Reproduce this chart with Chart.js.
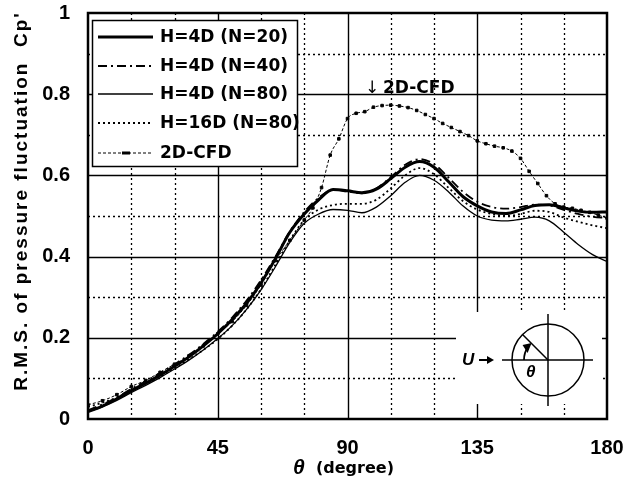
<!DOCTYPE html>
<html>
<head>
<meta charset="utf-8">
<script src="https://cdn.jsdelivr.net/npm/chart.js@4/dist/chart.umd.min.js"></script>
<style>
  html, body { margin: 0; padding: 0; background: #fff; }
  #wrap { width: 624px; height: 493px; }
</style>
</head>
<body>
<div id="wrap"><canvas id="chart" width="624" height="493"></canvas></div>
<script>
// theta (degree) sample points
const theta = [0, 5, 10, 15, 20, 25, 30, 35, 40, 45, 50, 55, 60, 65, 70, 75, 80, 85, 90,
  95, 100, 105, 110, 115, 120, 125, 130, 135, 140, 145, 150, 155, 160, 165, 170, 175, 180];

const cpN20 = [0.018, 0.032, 0.05, 0.07, 0.088, 0.108, 0.13, 0.153, 0.18, 0.21, 0.245, 0.285, 0.335,
  0.395, 0.46, 0.505, 0.54, 0.565, 0.562, 0.557, 0.566, 0.592, 0.62, 0.634, 0.62, 0.585, 0.548,
  0.525, 0.51, 0.506, 0.515, 0.526, 0.528, 0.52, 0.512, 0.509, 0.51];
const cpN40 = [0.022, 0.036, 0.053, 0.074, 0.093, 0.113, 0.135, 0.158, 0.185, 0.215, 0.25, 0.292, 0.342,
  0.4, 0.462, 0.51, 0.545, 0.565, 0.56, 0.556, 0.568, 0.596, 0.626, 0.64, 0.628, 0.595, 0.56,
  0.535, 0.522, 0.518, 0.522, 0.528, 0.526, 0.515, 0.505, 0.498, 0.495];
const cpN80 = [0.018, 0.03, 0.046, 0.065, 0.083, 0.102, 0.123, 0.145, 0.17, 0.198, 0.23, 0.27, 0.318,
  0.375, 0.435, 0.482, 0.505, 0.516, 0.514, 0.508, 0.522, 0.55, 0.583, 0.6, 0.588, 0.56, 0.525,
  0.5, 0.49, 0.488, 0.492, 0.497, 0.488, 0.46, 0.43, 0.405, 0.388];
const cpH16 = [0.03, 0.04, 0.053, 0.07, 0.087, 0.105, 0.125, 0.147, 0.17, 0.197, 0.23, 0.27, 0.32,
  0.38, 0.44, 0.49, 0.516, 0.527, 0.53, 0.53, 0.54, 0.568, 0.6, 0.618, 0.603, 0.57, 0.537,
  0.516, 0.505, 0.5, 0.505, 0.513, 0.51, 0.496, 0.486, 0.477, 0.47];

const thetaCfd = [0, 5, 10, 15, 20, 25, 30, 35, 40, 45, 50, 55, 60, 65, 70, 75, 78, 81, 84, 87, 90,
  93, 96, 99, 102, 105, 108, 111, 114, 117, 120, 123, 126, 129, 132, 135, 138, 141, 144, 147,
  150, 153, 156, 159, 162, 165, 168, 171, 174, 177, 180];
const cpCfd = [0.035, 0.045, 0.06, 0.08, 0.095, 0.115, 0.135, 0.155, 0.18, 0.21, 0.24, 0.28, 0.33,
  0.39, 0.44, 0.49, 0.52, 0.57, 0.65, 0.69, 0.74, 0.753, 0.757, 0.768, 0.772, 0.773, 0.771,
  0.767, 0.76, 0.75, 0.74, 0.728, 0.718, 0.708, 0.698, 0.685, 0.678, 0.672, 0.668, 0.66, 0.642,
  0.61, 0.58, 0.55, 0.53, 0.522, 0.519, 0.514, 0.509, 0.502, 0.495];

const seriesNames = ["H=4D (N=20)", "H=4D (N=40)", "H=4D (N=80)", "H=16D (N=80)", "2D-CFD"];
const xTicks = [0, 45, 90, 135, 180];
const yTicks = [0, 0.2, 0.4, 0.6, 0.8, 1];

function pts(xs, ys) {
  return xs.map((x, i) => ({ x: x, y: ys[i] }));
}

const styles = [
  { borderWidth: 3, borderDash: [] },
  { borderWidth: 1.8, borderDash: [9, 4, 2, 4] },
  { borderWidth: 1.3, borderDash: [] },
  { borderWidth: 1.8, borderDash: [2, 3] },
  { borderWidth: 1, borderDash: [3, 2] }
];

// grid, frame, legend box, annotation and inset sketch
const decor = {
  id: 'decor',
  beforeDatasetsDraw(chart) {
    const ctx = chart.ctx;
    const a = chart.chartArea;
    const xs = chart.scales.x, ys = chart.scales.y;
    ctx.save();
    ctx.strokeStyle = '#000';
    for (let k = 1; k < 10; k++) {
      const y = Math.round(ys.getPixelForValue(k / 10)) + 0.5;
      ctx.lineWidth = k % 2 === 0 ? 1.4 : 1.3;
      ctx.setLineDash(k % 2 === 0 ? [] : [2, 3]);
      ctx.beginPath(); ctx.moveTo(a.left, y); ctx.lineTo(a.right, y); ctx.stroke();
    }
    for (let t = 15; t < 180; t += 15) {
      const x = Math.round(xs.getPixelForValue(t)) + 0.5;
      ctx.lineWidth = t % 45 === 0 ? 1.4 : 1.3;
      ctx.setLineDash(t % 45 === 0 ? [] : [2, 3]);
      ctx.beginPath(); ctx.moveTo(x, a.top); ctx.lineTo(x, a.bottom); ctx.stroke();
    }
    ctx.setLineDash([]);

    // inset: flow sketch
    ctx.fillStyle = '#fff';
    ctx.fillRect(456, 312, 146, 92);
    const cx = 548, cy = 360, r = 36;
    ctx.lineWidth = 1.5;
    ctx.beginPath(); ctx.arc(cx, cy, r, 0, Math.PI * 2); ctx.stroke();
    ctx.beginPath(); ctx.moveTo(502, cy); ctx.lineTo(593, cy); ctx.stroke();
    ctx.beginPath(); ctx.moveTo(cx, 314); ctx.lineTo(cx, 406); ctx.stroke();
    ctx.beginPath(); ctx.moveTo(cx, cy); ctx.lineTo(cx - r * Math.cos(Math.PI / 4), cy - r * Math.sin(Math.PI / 4)); ctx.stroke();
    // angle arc with arrow
    ctx.lineWidth = 1.8;
    ctx.beginPath(); ctx.arc(cx, cy, 24, Math.PI, Math.PI * 1.19); ctx.stroke();
    const ea = Math.PI * 1.2;
    const ex = cx + 24 * Math.cos(ea), ey = cy + 24 * Math.sin(ea);
    ctx.beginPath(); ctx.moveTo(ex + 3, ey - 3); ctx.lineTo(ex - 6, ey - 1); ctx.lineTo(ex - 1, ey + 7); ctx.closePath(); ctx.fillStyle = '#000'; ctx.fill();
    // U arrow
    ctx.lineWidth = 2;
    ctx.beginPath(); ctx.moveTo(479, cy); ctx.lineTo(489, cy); ctx.stroke();
    ctx.beginPath(); ctx.moveTo(494, cy); ctx.lineTo(487, cy - 4); ctx.lineTo(487, cy + 4); ctx.closePath(); ctx.fill();
    ctx.fillStyle = '#000';
    ctx.font = 'italic bold 17px "Liberation Sans"';
    ctx.textBaseline = 'middle';
    ctx.textAlign = 'left';
    ctx.fillText('U', 462, cy);
    ctx.fillText('θ', 526, 372);
    ctx.restore();
  },
  afterDatasetsDraw(chart) {
    const ctx = chart.ctx;
    const a = chart.chartArea;
    ctx.save();
    // frame
    ctx.strokeStyle = '#000';
    ctx.lineWidth = 2.5;
    ctx.strokeRect(a.left, a.top, a.right - a.left, a.bottom - a.top);

    // legend
    ctx.fillStyle = '#fff';
    ctx.fillRect(92, 20, 205, 146);
    ctx.lineWidth = 1.5;
    ctx.strokeRect(92.5, 20.5, 205, 146);
    const rows = [37, 66, 94, 123, 153];
    ctx.font = 'bold 17px "DejaVu Sans"';
    ctx.textBaseline = 'middle';
    ctx.textAlign = 'left';
    rows.forEach((y, i) => {
      const st = styles[i];
      ctx.lineWidth = st.borderWidth;
      ctx.setLineDash(st.borderDash);
      ctx.beginPath(); ctx.moveTo(98, y); ctx.lineTo(153, y); ctx.stroke();
      ctx.setLineDash([]);
      if (i === 4) { ctx.fillStyle = '#000'; ctx.fillRect(122, y - 1.5, 8, 3); }
      ctx.fillStyle = '#000';
      ctx.fillText(seriesNames[i], 160, y + 1);
    });

    // annotation
    ctx.font = '17px "DejaVu Sans"';
    ctx.fillText('↓', 365, 89);
    ctx.font = 'bold 17px "DejaVu Sans"';
    ctx.fillText('2D-CFD', 383, 89);

    // axis titles
    ctx.textAlign = 'center';
    ctx.save();
    ctx.translate(22, 201);
    ctx.rotate(-Math.PI / 2);
    ctx.font = 'bold 19px "Liberation Sans"';
    ctx.letterSpacing = '2px';
    ctx.fillText("R.M.S. of pressure fluctuation  Cp'", 0, 0);
    ctx.restore();
    ctx.textAlign = 'left';
    ctx.font = 'italic bold 21px "Liberation Sans"';
    ctx.fillText('θ', 293, 468);
    ctx.font = 'bold 16px "DejaVu Sans"';
    ctx.fillText('(degree)', 316, 469);
    ctx.restore();
  }
};

const datasets = [
  { label: seriesNames[0], data: pts(theta, cpN20) },
  { label: seriesNames[1], data: pts(theta, cpN40) },
  { label: seriesNames[2], data: pts(theta, cpN80) },
  { label: seriesNames[3], data: pts(theta, cpH16) },
  { label: seriesNames[4], data: pts(thetaCfd, cpCfd), pointRadius: 1.8, pointStyle: 'rect' }
].map((d, i) => Object.assign({
  borderColor: '#000',
  backgroundColor: '#000',
  borderWidth: styles[i].borderWidth,
  borderDash: styles[i].borderDash,
  pointRadius: 0,
  fill: false,
  cubicInterpolationMode: 'monotone'
}, d));

let ctx = document.getElementById('chart').getContext('2d');
let chart = new Chart(ctx, {
  type: 'line',
  data: { datasets: datasets },
  options: {
    responsive: false,
    animation: false,
    layout: { padding: { top: 13, right: 17, left: 0, bottom: 0 } },
    plugins: { legend: { display: false }, tooltip: { enabled: false } },
    scales: {
      x: {
        type: 'linear', min: 0, max: 180,
        afterBuildTicks: s => { s.ticks = xTicks.map(v => ({ value: v })); },
        afterFit: s => { s.height = 74; s.paddingLeft = 0; s.paddingRight = 0; },
        ticks: { color: '#000', padding: 17, maxRotation: 0, font: { family: 'Liberation Sans', size: 20, weight: 'bold' } },
        grid: { display: false, drawTicks: false },
        border: { display: false }
      },
      y: {
        min: 0, max: 1,
        afterBuildTicks: s => { s.ticks = yTicks.map(v => ({ value: v })); },
        afterFit: s => { s.width = 88; s.paddingTop = 0; s.paddingBottom = 0; },
        ticks: { color: '#000', padding: 18, callback: v => String(Math.round(v * 10) / 10), font: { family: 'Liberation Sans', size: 20, weight: 'bold' } },
        grid: { display: false, drawTicks: false },
        border: { display: false }
      }
    }
  },
  plugins: [decor]
});
</script>
</body>
</html>
